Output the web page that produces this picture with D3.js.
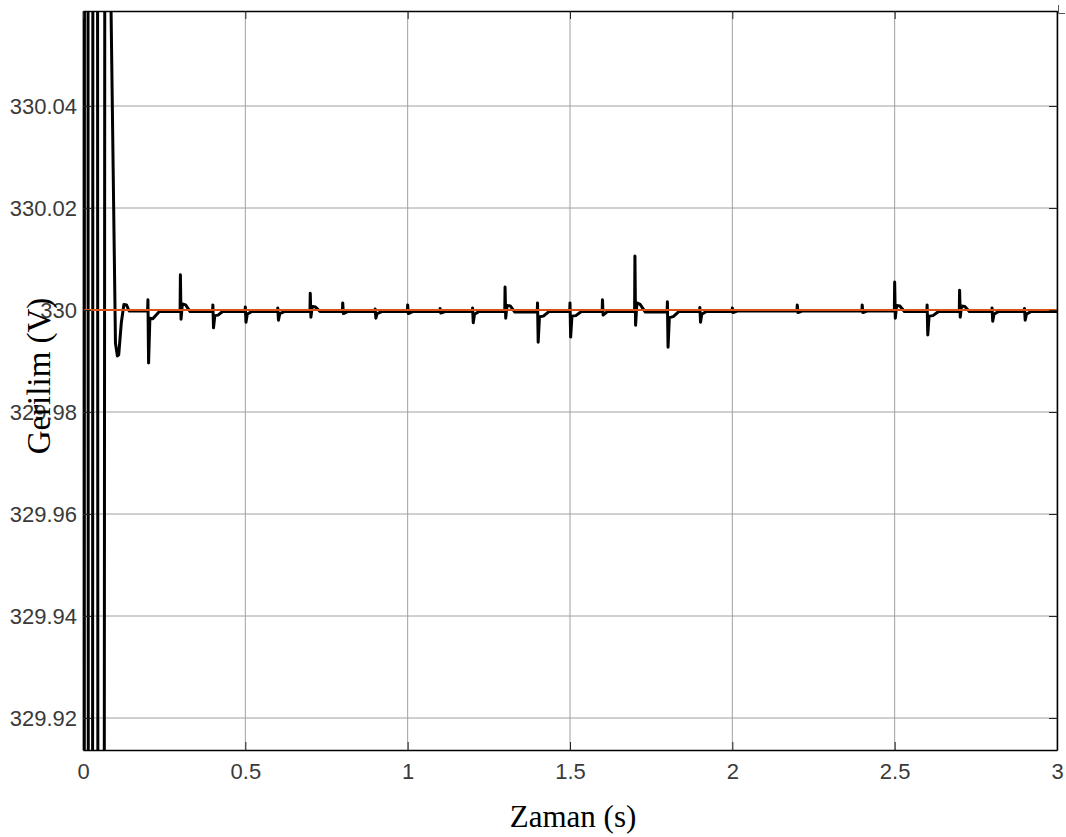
<!DOCTYPE html>
<html>
<head>
<meta charset="utf-8">
<script src="https://cdn.jsdelivr.net/npm/d3@7"></script>
<style>
  html, body { margin: 0; padding: 0; background: #fff; }
  svg { display: block; }
</style>
</head>
<body>
<svg id="chart"></svg>
<script>
// x ticks (time, s)
const xTicks = [0, 0.5, 1, 1.5, 2, 2.5, 3];
const xTickLabels = ["0", "0.5", "1", "1.5", "2", "2.5", "3"];

// y ticks (voltage, V)
const yTicks = [329.92, 329.94, 329.96, 329.98, 330, 330.02, 330.04];
const yTickLabels = ["329.92", "329.94", "329.96", "329.98", "330", "330.02", "330.04"];

// reference voltage (red line)
const refLevel = 330;

const signal = [
    [0.000, 328.6], [0.0085, 331.4], [0.023, 328.6], [0.037, 331.4],
    [0.0535, 328.6], [0.072, 330.6], [0.082, 330.08], [0.100, 329.9935],
    [0.106, 329.9910], [0.110, 329.9912], [0.118, 329.9975], [0.126, 330.0011],
    [0.134, 330.0010], [0.142, 329.9998], [0.199, 329.9998],
    [0.200, 330.0020], [0.202, 329.9896], [0.206, 329.9984], [0.215, 329.9983], [0.235, 329.9997],
    [0.299, 329.9997], [0.300, 330.0069], [0.302, 329.9982], [0.306, 330.0012], [0.316, 330.0010], [0.330, 329.9997],
    [0.399, 329.9997], [0.400, 330.0010], [0.402, 329.9965], [0.406, 329.9989], [0.416, 329.9990], [0.430, 329.9997],
    [0.499, 329.9997], [0.500, 330.0006], [0.502, 329.9976], [0.506, 329.9992], [0.520, 329.9997],
    [0.599, 329.9997], [0.600, 330.0004], [0.602, 329.9980], [0.606, 329.9993], [0.620, 329.9997],
    [0.699, 329.9997], [0.700, 330.0033], [0.702, 329.9986], [0.706, 330.0007], [0.716, 330.0006], [0.730, 329.9997],
    [0.799, 329.9997], [0.800, 330.0014], [0.802, 329.9993], [0.815, 329.9997],
    [0.899, 329.9997], [0.900, 330.0002], [0.902, 329.9984], [0.906, 329.9993], [0.920, 329.9997],
    [0.999, 329.9997], [1.000, 330.0010], [1.002, 329.9993], [1.015, 329.9997],
    [1.099, 329.9997], [1.100, 330.0003], [1.102, 329.9994], [1.115, 329.9997],
    [1.199, 329.9997], [1.200, 330.0004], [1.202, 329.9975], [1.206, 329.9992], [1.220, 329.9997],
    [1.299, 329.9997], [1.300, 330.0045], [1.302, 329.9984], [1.306, 330.0009], [1.316, 330.0008], [1.330, 329.9996],
    [1.399, 329.9996], [1.400, 330.0014], [1.402, 329.9937], [1.406, 329.9987], [1.418, 329.9988], [1.435, 329.9997],
    [1.499, 329.9997], [1.500, 330.0014], [1.502, 329.9947], [1.506, 329.9988], [1.518, 329.9989], [1.535, 329.9997],
    [1.599, 329.9997], [1.600, 330.0020], [1.602, 329.9990], [1.615, 329.9997],
    [1.699, 329.9997], [1.700, 330.0106], [1.702, 329.9970], [1.706, 330.0014], [1.716, 330.0011], [1.732, 329.9996],
    [1.799, 329.9996], [1.800, 330.0016], [1.802, 329.9927], [1.806, 329.9985], [1.818, 329.9987], [1.835, 329.9997],
    [1.899, 329.9997], [1.900, 330.0005], [1.902, 329.9976], [1.906, 329.9992], [1.920, 329.9997],
    [1.999, 329.9997], [2.000, 330.0004], [2.002, 329.9995], [2.015, 329.9998],
    [2.199, 329.9998], [2.200, 330.0010], [2.202, 329.9995], [2.215, 329.9998],
    [2.399, 329.9998], [2.400, 330.0010], [2.402, 329.9995], [2.415, 329.9998],
    [2.499, 329.9998], [2.500, 330.0055], [2.502, 329.9984], [2.506, 330.0009], [2.516, 330.0008], [2.530, 329.9997],
    [2.599, 329.9997], [2.600, 330.0010], [2.602, 329.9951], [2.606, 329.9988], [2.618, 329.9989], [2.635, 329.9997],
    [2.699, 329.9997], [2.700, 330.0039], [2.702, 329.9986], [2.706, 330.0008], [2.716, 330.0007], [2.730, 329.9997],
    [2.799, 329.9997], [2.800, 330.0004], [2.802, 329.9978], [2.806, 329.9992], [2.820, 329.9997],
    [2.899, 329.9997], [2.900, 330.0003], [2.902, 329.9980], [2.906, 329.9992], [2.920, 329.9997],
    [3.000, 329.9997]
];

const width = 1066;
const height = 837;
const margin = { top: 11, right: 9, bottom: 87, left: 83 };

const svg = d3.select("#chart")
    .attr("width", width)
    .attr("height", height);

const x = d3.scaleLinear()
    .domain([0, 3])
    .range([margin.left, width - margin.right]);

const y = d3.scaleLinear()
    .domain([329.91373, 330.05863])
    .range([height - margin.bottom, margin.top]);

const plotW = width - margin.right - margin.left;
const plotH = height - margin.bottom - margin.top;

svg.append("defs").append("clipPath")
    .attr("id", "plot-clip")
    .append("rect")
    .attr("x", margin.left)
    .attr("y", margin.top)
    .attr("width", plotW)
    .attr("height", plotH);

// grid
svg.append("g")
    .selectAll("line")
    .data(xTicks)
    .join("line")
    .attr("x1", d => x(d))
    .attr("x2", d => x(d))
    .attr("y1", margin.top)
    .attr("y2", height - margin.bottom)
    .attr("stroke", "#a0a0a0")
    .attr("stroke-width", 1);

svg.append("g")
    .selectAll("line")
    .data(yTicks)
    .join("line")
    .attr("x1", margin.left)
    .attr("x2", width - margin.right)
    .attr("y1", d => y(d))
    .attr("y2", d => y(d))
    .attr("stroke", "#a0a0a0")
    .attr("stroke-width", 1);

const line = d3.line()
    .x(d => x(d[0]))
    .y(d => y(d[1]));

const plot = svg.append("g").attr("clip-path", "url(#plot-clip)");

plot.append("path")
    .datum(signal)
    .attr("d", line)
    .attr("fill", "none")
    .attr("stroke", "#000")
    .attr("stroke-width", 3)
    .attr("stroke-linejoin", "round");

plot.append("line")
    .attr("x1", x(0))
    .attr("x2", x(3))
    .attr("y1", y(refLevel))
    .attr("y2", y(refLevel))
    .attr("stroke", "#d95319")
    .attr("stroke-width", 2);

// axes: ticks inside, on all four sides
const tickLen = 8;

svg.append("g")
    .attr("transform", `translate(0,${height - margin.bottom})`)
    .call(d3.axisBottom(x).tickValues(xTicks).tickFormat((d, i) => xTickLabels[i])
        .tickSizeInner(-tickLen).tickSizeOuter(0).tickPadding(13));

svg.append("g")
    .attr("transform", `translate(${margin.left},0)`)
    .call(d3.axisLeft(y).tickValues(yTicks).tickFormat((d, i) => yTickLabels[i])
        .tickSizeInner(-tickLen).tickSizeOuter(0).tickPadding(6));

svg.append("g")
    .attr("transform", `translate(0,${margin.top})`)
    .call(d3.axisTop(x).tickValues(xTicks).tickSizeInner(-tickLen).tickSizeOuter(0).tickFormat(""));

svg.append("g")
    .attr("transform", `translate(${width - margin.right},0)`)
    .call(d3.axisRight(y).tickValues(yTicks).tickSizeInner(-tickLen).tickSizeOuter(0).tickFormat(""));

svg.selectAll(".domain")
    .attr("stroke", "#000")
    .attr("stroke-width", 1.5);
svg.selectAll(".tick line")
    .attr("stroke", "#222");

svg.selectAll(".tick text")
    .attr("font-family", "Liberation Sans, Arial, sans-serif")
    .attr("font-size", 22)
    .attr("fill", "#3a3a3a");

// axis labels
svg.append("text")
    .attr("x", x(1.5) + 3)
    .attr("y", 827)
    .attr("text-anchor", "middle")
    .attr("font-family", "Liberation Serif, Times New Roman, serif")
    .attr("font-size", 31)
    .attr("fill", "#000")
    .text("Zaman (s)");

svg.append("text")
    .attr("transform", `translate(50,${376}) rotate(-90)`)
    .attr("text-anchor", "middle")
    .attr("font-family", "Liberation Serif, Times New Roman, serif")
    .attr("font-size", 33)
    .attr("fill", "#000")
    .text("Gerilim (V)");

// small corner mark at top right
svg.append("path")
    .attr("d", "M1058.5,5V13.5H1065")
    .attr("fill", "none")
    .attr("stroke", "#555")
    .attr("stroke-width", 1);
</script>
</body>
</html>
